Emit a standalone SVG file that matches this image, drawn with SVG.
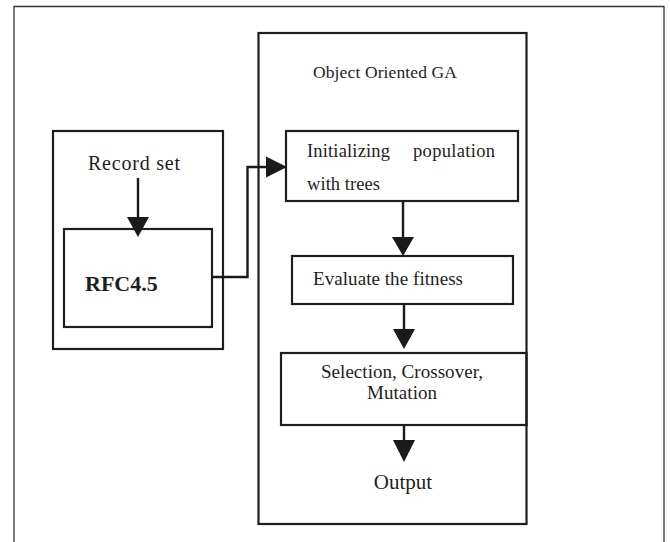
<svg xmlns="http://www.w3.org/2000/svg" width="670" height="542" viewBox="0 0 670 542">
<defs>
<style>
.box{fill:none;stroke:#1e1e1e;stroke-width:2.2}
.con{fill:none;stroke:#1a1a1a;stroke-width:2.4}
.ah{fill:#1a1a1a}
text{font-family:"Liberation Serif","Times New Roman",serif;fill:#1e1e1e}
</style>
</defs>
<rect width="670" height="542" fill="#ffffff"/>
<path d="M14,542 V6.5 H664 V542" fill="none" stroke="#333" stroke-width="1.3"/>
<g id="left-container"><rect class="box" x="53" y="131" width="170" height="218"/></g>
<g id="record-set"><text x="134" y="170" font-size="20" text-anchor="middle" textLength="92" lengthAdjust="spacing">Record set</text></g>
<g id="rfc"><rect class="box" x="64" y="229" width="148" height="98"/><text x="85" y="291" font-size="22" font-weight="bold">RFC4.5</text></g>
<g id="ga"><rect class="box" x="258.5" y="33" width="268" height="491"/><text x="313" y="78" font-size="17.5" textLength="144" lengthAdjust="spacing">Object Oriented GA</text></g>
<g id="init"><rect class="box" x="286" y="131" width="232" height="70"/><text x="307" y="157" font-size="18.5" textLength="83" lengthAdjust="spacing">Initializing</text><text x="413" y="157" font-size="18.5" textLength="82" lengthAdjust="spacing">population</text><text x="307" y="190" font-size="18.5" textLength="73" lengthAdjust="spacing">with trees</text></g>
<g id="eval"><rect class="box" x="292" y="256" width="221" height="48"/><text x="313" y="285" font-size="19" textLength="150" lengthAdjust="spacing">Evaluate the fitness</text></g>
<g id="sel"><rect class="box" x="281" y="353" width="245.5" height="72"/><text x="402" y="378" font-size="19" text-anchor="middle" textLength="162" lengthAdjust="spacing">Selection, Crossover,</text><text x="402" y="399" font-size="19" text-anchor="middle" textLength="70" lengthAdjust="spacing">Mutation</text></g>
<g id="output"><text x="403" y="489" font-size="21" text-anchor="middle">Output</text></g>
<g id="connectors">
<path class="con" d="M138,178 V218"/><path class="ah" d="M127,217 H149 L138,237 Z"/>
<path class="con" d="M212,277 H247.5 V167 H268"/><path class="ah" d="M266,156.5 L287,167 L266,177.5 Z"/>
<path class="con" d="M403,201 V238"/><path class="ah" d="M392,237 H414 L403,256 Z"/>
<path class="con" d="M404,304 V330"/><path class="ah" d="M393,329 H415 L404,349 Z"/>
<path class="con" d="M404,425 V441"/><path class="ah" d="M393,440 H415 L404,462 Z"/>
</g>
</svg>
